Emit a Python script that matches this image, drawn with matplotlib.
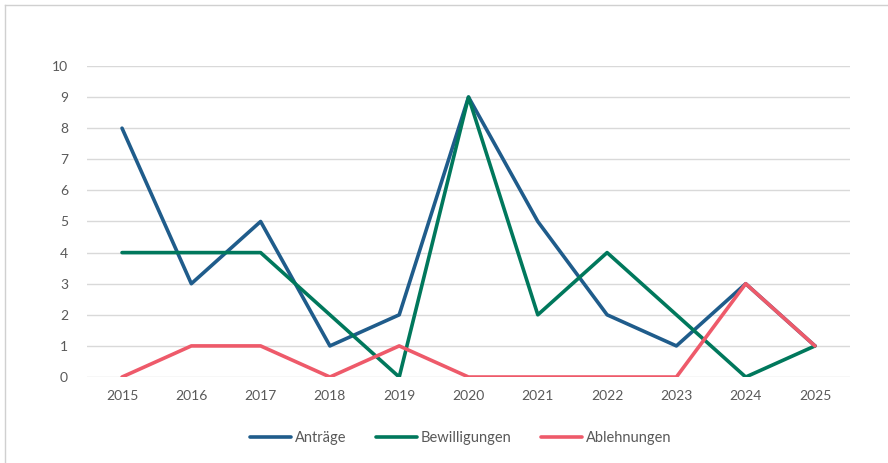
import matplotlib.pyplot as plt
from matplotlib.lines import Line2D

jahre = ['2015', '2016', '2017', '2018', '2019', '2020', '2021', '2022', '2023', '2024', '2025']
antraege = [8, 3, 5, 1, 2, 9, 5, 2, 1, 3, 1]
bewilligungen = [4, 4, 4, 2, 0, 9, 2, 4, 2, 0, 1]
ablehnungen = [0, 1, 1, 0, 1, 0, 0, 0, 0, 3, 1]

plt.rcParams['font.family'] = ['Lato', 'DejaVu Sans']

fig = plt.figure(figsize=(8.88, 4.63), dpi=100)
ax = fig.add_axes([0.0984, 0.1857, 0.8584, 0.6718])

x = list(range(len(jahre)))
ax.plot(x, antraege, color='#1F5C8B', lw=2.6, label='Anträge', solid_joinstyle='round', solid_capstyle='round')
ax.plot(x, bewilligungen, color='#00785C', lw=2.6, label='Bewilligungen', solid_joinstyle='round', solid_capstyle='round')
ax.plot(x, ablehnungen, color='#EE5A6A', lw=2.6, label='Ablehnungen', solid_joinstyle='round', solid_capstyle='round')

ax.set_xlim(-0.5, len(jahre) - 0.5)
ax.set_ylim(0, 10)
ax.set_yticks(range(0, 11))
ax.set_xticks(x)
ax.set_xticklabels(jahre)
ax.tick_params(length=0, labelsize=10, labelcolor='#595959', pad=9)
ax.tick_params(axis='y', pad=14)
ax.grid(axis='y', color='#D9D9D9', lw=1)
ax.set_axisbelow(True)
for s in ax.spines.values():
    s.set_visible(False)

ax.legend(loc='center', bbox_to_anchor=(0.49, -0.196), ncol=3, frameon=False,
          fontsize=10.5, labelcolor='#595959', handlelength=2.8, handletextpad=0.3,
          columnspacing=2.0)

# Rahmen
fig.add_artist(Line2D([5 / 888, 1], [1 - 5 / 463, 1 - 5 / 463], color='#D0D0D0', lw=1))
fig.add_artist(Line2D([5 / 888, 5 / 888], [0, 1 - 5 / 463], color='#D0D0D0', lw=1))

fig.savefig('out.png', dpi=100)
